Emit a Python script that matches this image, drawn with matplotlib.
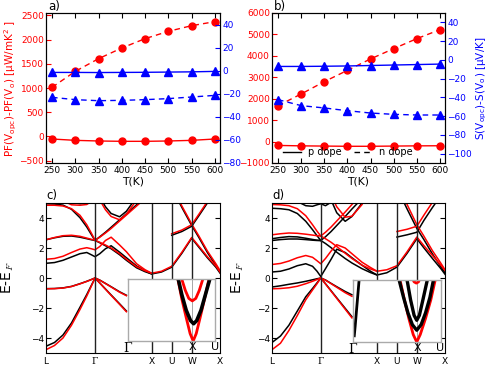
import numpy as np
import matplotlib
matplotlib.use("Agg")
import matplotlib.pyplot as plt
from matplotlib.lines import Line2D

plt.rcParams["font.family"] = "DejaVu Sans"
plt.rcParams["mathtext.fontset"] = "cm"

n = np.nan

# ---------------------------------------------------------------------------
# Top panels: differences vs temperature
# ---------------------------------------------------------------------------
temps = [250, 300, 350, 400, 450, 500, 550, 600]

# panel a)
pf_n_a = [1014, 1344, 1606, 1827, 2020, 2171, 2288, 2371]
pf_p_a = [-54, -82, -95, -102, -102, -95, -82, -54]
s_p_a = [-1.5, -1.5, -1.6, -1.5, -1.4, -1.2, -1.0, -0.6]
s_n_a = [-23.1, -25.1, -26.0, -25.7, -25.1, -24.2, -22.8, -21.4]

# panel b)
pf_n_b = [1676, 2220, 2796, 3324, 3856, 4336, 4802, 5222]
pf_p_b = [-180, -200, -210, -220, -220, -210, -200, -195]
s_p_b = [-7.0, -7.0, -6.8, -6.5, -6.0, -5.5, -5.0, -4.5]
s_n_b = [-42.4, -48.8, -51.3, -54.2, -56.7, -58.1, -58.8, -58.8]

# ---------------------------------------------------------------------------
# Bottom panels: band structures along L-G-X-U-W-X
# ---------------------------------------------------------------------------
sym_k = [0.0, 0.866, 1.866, 2.22, 2.573, 3.073]
sym_labels = ["L", "Γ", "X", "U", "W", "X"]

band_k = [0.0, 0.15, 0.3, 0.45, 0.6, 0.72, 0.8, 0.866, 0.95, 1.05, 1.15, 1.3,
          1.42, 1.6, 1.75, 1.866, 2.04, 2.22, 2.40, 2.573, 2.70, 2.85, 3.0, 3.073]

# panel c), black
c_k_heavy = [-0.71, -0.70, -0.66, -0.56, -0.38, -0.22, -0.10, 0.0, -0.14, -0.36, -0.58, -0.92,
             -1.15, n, n, n, n, n, n, n, n, n, n, n]
c_k_light = [-4.55, -4.30, -3.80, -3.00, -1.95, -1.10, -0.50, 0.0, -0.33, -0.73, -1.13, -1.72,
             -2.20, n, n, n, n, n, n, n, n, n, n, n]
c_k_cb1 = [0.98, 1.03, 1.18, 1.40, 1.62, 1.70, 1.55, 1.42, 1.62, 1.95, 2.15, 1.72,
           1.35, 0.80, 0.48, 0.27, 0.40, 0.72, 1.65, 2.65, 2.05, 1.35, 0.72, 0.33]
c_k_cb2 = [2.55, 2.68, 2.78, 2.80, 2.72, 2.62, 2.55, 2.50, 2.35, 2.15, 1.95, 1.55,
           1.18, 0.68, 0.42, 0.27, n, n, n, n, n, n, n, n]
c_k_cb3 = [4.95, 4.93, 4.86, 4.58, 4.02, 3.40, 2.90, 2.50, 2.75, 3.05, 3.38, 3.88,
           4.28, 4.88, 5.40, n, n, n, n, n, n, n, n, n]
c_k_cb4 = [n, n, n, n, n, n, n, n, 5.40, 4.75, 4.30, 4.08,
           4.45, 5.40, n, n, n, n, n, n, n, n, n, n]
c_k_cb5 = [n, n, n, 5.05, 4.95, 5.0, 5.1, n, n, n, n, n,
           n, n, n, n, n, n, n, n, n, n, n, n]
c_k_cb6 = [n, n, n, n, n, n, n, n, n, n, n, n,
           n, n, n, n, n, 6.00, 4.70, 3.50, 2.70, 1.70, 0.85, 0.42]
c_k_cb7 = [n, n, n, n, n, n, n, n, n, n, n, n,
           n, n, n, n, n, 2.85, 3.10, 3.45, 4.15, 5.00, 5.85, n]

# panel c), red
c_r_heavy = [-0.72, -0.71, -0.67, -0.57, -0.39, -0.23, -0.11, 0.0, -0.15, -0.37, -0.60, -0.95,
             -1.18, n, n, n, n, n, n, n, n, n, n, n]
c_r_light = [-4.78, -4.50, -4.00, -3.15, -2.10, -1.20, -0.55, 0.0, -0.34, -0.75, -1.16, -1.76,
             -2.25, n, n, n, n, n, n, n, n, n, n, n]
c_r_cb1 = [1.25, 1.30, 1.45, 1.70, 1.93, 2.02, 1.95, 1.88, 2.10, 2.50, 2.72, 2.20,
           1.75, 0.95, 0.55, 0.32, 0.45, 0.78, 1.72, 2.70, 2.12, 1.42, 0.80, 0.40]
c_r_cb2 = [2.55, 2.70, 2.82, 2.85, 2.78, 2.66, 2.58, 2.52, 2.38, 2.20, 2.00, 1.62,
           1.25, 0.75, 0.48, 0.32, n, n, n, n, n, n, n, n]
c_r_cb3 = [4.85, 4.85, 4.80, 4.62, 4.18, 3.55, 3.00, 2.52, 2.72, 3.00, 3.30, 3.80,
           4.20, 4.80, 5.30, n, n, n, n, n, n, n, n, n]
c_r_cb4 = [n, n, n, n, n, n, n, n, 5.20, 4.55, 4.10, 3.88,
           4.25, 5.20, n, n, n, n, n, n, n, n, n, n]
c_r_cb5 = [n, n, 5.15, 4.88, 4.85, 4.90, 5.10, n, n, n, n, n,
           n, n, n, n, n, n, n, n, n, n, n, n]
c_r_cb6 = [n, n, n, n, n, n, n, n, n, n, n, n,
           n, n, n, n, n, 6.10, 4.80, 3.60, 2.80, 1.80, 0.95, 0.50]
c_r_cb7 = [n, n, n, n, n, n, n, n, n, n, n, n,
           n, n, n, n, n, 2.95, 3.20, 3.55, 4.25, 5.10, 5.95, n]

# panel d), black
d_k_heavy = [-0.60, -0.52, -0.42, -0.33, -0.22, -0.12, -0.05, 0.0, -0.13, -0.36, -0.58, -0.90,
             -1.12, n, n, n, n, n, n, n, n, n, n, n]
d_k_light = [-4.30, -3.87, -3.15, -2.20, -1.25, -0.70, -0.32, 0.0, -0.38, -0.85, -1.32, -2.02,
             -2.58, n, n, n, n, n, n, n, n, n, n, n]
d_k_cb1 = [0.40, 0.45, 0.60, 0.82, 0.95, 0.78, 0.45, 0.10, 0.62, 1.25, 1.92, 1.70,
           1.35, 0.85, 0.45, 0.20, 0.35, 0.73, 1.65, 2.62, 2.00, 1.30, 0.62, 0.25]
d_k_cb2 = [2.50, 2.56, 2.60, 2.60, 2.56, 2.52, 2.50, 2.50, 2.30, 2.02, 1.72, 1.30,
           1.00, 0.62, 0.36, 0.20, n, n, n, n, n, n, n, n]
d_k_cb2b = [2.62, 2.70, 2.76, 2.74, 2.65, 2.57, 2.52, 2.50, 2.75, 3.10, 3.50, 4.10,
            4.60, 5.30, n, n, n, n, n, n, n, n, n, n]
d_k_cb3 = [4.65, 4.62, 4.55, 4.30, 3.78, 3.22, 2.82, 2.50, n, n, n, n,
           n, n, n, n, n, n, n, n, n, n, n, n]
d_k_cb4 = [n, n, n, n, n, n, n, n, n, 5.20, 4.35, 3.78,
           4.10, 5.00, n, n, n, n, n, n, n, n, n, n]
d_k_cb5 = [n, n, n, 5.10, 4.82, 4.78, 4.88, 4.95, 4.82, 5.05, n, n,
           n, n, n, n, n, n, n, n, n, n, n, n]
d_k_cb6 = [n, n, n, n, n, n, n, n, n, n, n, n,
           n, n, n, n, n, 6.00, 4.60, 3.30, 2.55, 1.60, 0.75, 0.35]
d_k_cb7 = [n, n, n, n, n, n, n, n, n, n, n, n,
           n, n, n, n, n, 2.73, 2.88, 3.05, 3.85, 4.70, 5.50, n]

# panel d), red
d_r_heavy = [-0.72, -0.70, -0.65, -0.55, -0.38, -0.22, -0.10, 0.0, -0.15, -0.38, -0.62, -0.98,
             -1.22, n, n, n, n, n, n, n, n, n, n, n]
d_r_light = [-4.78, -4.35, -3.50, -2.50, -1.45, -0.80, -0.38, 0.0, -0.40, -0.88, -1.36, -2.08,
             -2.66, n, n, n, n, n, n, n, n, n, n, n]
d_r_cb1 = [0.90, 0.97, 1.13, 1.35, 1.50, 1.38, 1.15, 0.95, 1.30, 1.80, 2.22, 2.00,
           1.62, 1.05, 0.70, 0.45, 0.55, 0.82, 1.75, 2.73, 2.15, 1.50, 0.85, 0.50]
d_r_cb2 = [2.88, 2.95, 3.00, 2.98, 2.92, 2.86, 2.82, 2.80, 2.62, 2.38, 2.10, 1.65,
           1.30, 0.85, 0.60, 0.45, n, n, n, n, n, n, n, n]
d_r_cb2b = [n, n, n, n, n, n, n, 2.80, 3.05, 3.40, 3.80, 4.40,
            4.90, 5.60, n, n, n, n, n, n, n, n, n, n]
d_r_cb3 = [4.90, 4.88, 4.82, 4.62, 4.15, 3.55, 3.12, 2.80, n, n, n, n,
           n, n, n, n, n, n, n, n, n, n, n, n]
d_r_cb4 = [n, n, n, n, n, n, n, n, n, 5.50, 4.75, 4.05,
           4.12, 4.90, n, n, n, n, n, n, n, n, n, n]
d_r_cb6 = [n, n, n, n, n, n, n, n, n, n, n, n,
           n, n, n, n, n, 6.20, 4.90, 3.55, 2.78, 1.82, 0.98, 0.55]
d_r_cb7 = [n, n, n, n, n, n, n, n, n, n, n, n,
           n, n, n, n, n, 3.10, 3.25, 3.45, 4.20, 5.05, 5.90, n]

c_black = [c_k_heavy, c_k_light, c_k_cb1, c_k_cb2, c_k_cb3, c_k_cb4, c_k_cb5, c_k_cb6, c_k_cb7]
c_red = [c_r_heavy, c_r_light, c_r_cb1, c_r_cb2, c_r_cb3, c_r_cb4, c_r_cb5, c_r_cb6, c_r_cb7]
d_black = [d_k_heavy, d_k_light, d_k_cb1, d_k_cb2, d_k_cb2b, d_k_cb3, d_k_cb4, d_k_cb5,
           d_k_cb6, d_k_cb7]
d_red = [d_r_heavy, d_r_light, d_r_cb1, d_r_cb2, d_r_cb2b, d_r_cb3, d_r_cb4, d_r_cb6, d_r_cb7]

# insets: zoom around the conduction band minimum at X (inset units 0..1)
inset_ticks_c = [0.0, 0.74, 1.0]
inset_ticks_d = [0.0, 0.735, 1.0]
inset_labels = ["Γ", "X", "U"]

c_in_red_outer_x = [0.575, 0.62, 0.67, 0.715, 0.75, 0.785, 0.83, 0.88, 0.93]
c_in_red_outer_y = [1.0, 0.68, 0.38, 0.12, 0.0, 0.12, 0.38, 0.68, 1.0]
c_in_black_x = [0.58, 0.62, 0.67, 0.72, 0.755, 0.79, 0.84, 0.89, 0.94]
c_in_black_y = [1.0, 0.75, 0.50, 0.33, 0.28, 0.33, 0.50, 0.75, 1.0]
c_in_red_inner_x = [0.62, 0.66, 0.70, 0.74, 0.78, 0.82, 0.86]
c_in_red_inner_y = [1.0, 0.82, 0.69, 0.65, 0.69, 0.82, 1.0]

d_in_steep_x = [0.075, 0.06, 0.045, 0.03, 0.02]
d_in_steep_y = [1.0, 0.75, 0.5, 0.25, 0.1]
d_in_red_outer_x = [0.54, 0.59, 0.64, 0.69, 0.73, 0.77, 0.83, 0.89, 0.94]
d_in_red_outer_y = [1.0, 0.68, 0.38, 0.12, 0.0, 0.12, 0.38, 0.68, 1.0]
d_in_black_low_x = [0.53, 0.58, 0.63, 0.68, 0.73, 0.78, 0.83, 0.88, 0.92]
d_in_black_low_y = [1.0, 0.72, 0.47, 0.28, 0.19, 0.28, 0.47, 0.72, 1.0]
d_in_black_up_x = [0.62, 0.66, 0.70, 0.73, 0.76, 0.80, 0.85]
d_in_black_up_y = [1.0, 0.68, 0.43, 0.35, 0.43, 0.68, 1.0]
d_in_red_top_x = [0.68, 0.70, 0.725, 0.75, 0.77]
d_in_red_top_y = [1.03, 0.97, 0.95, 0.97, 1.03]


# ---------------------------------------------------------------------------
# helpers
# ---------------------------------------------------------------------------
def style_ticks(ax, size=6.5):
    ax.tick_params(direction="in", length=3.5, width=0.8, labelsize=size, pad=1.5)


def serif_gamma(labels):
    # the Gamma labels are set in a serif face in the original
    for t in labels:
        if t.get_text() == "Γ":
            t.set_fontfamily("DejaVu Serif")
            t.set_fontsize(9)


def temp_panel(fig, rect, pf_n, pf_p, s_p, s_n, pf_lim, s_lim, pf_ticks, s_ticks, label):
    ax = fig.add_axes(rect)
    ax.plot(temps, pf_n, "--o", color="red", lw=1, ms=5, dashes=(4, 3))
    ax.plot(temps, pf_p, "-o", color="red", lw=1, ms=5)
    ax.set_xlim(237, 611)
    ax.set_ylim(*pf_lim)
    ax.set_yticks(pf_ticks)
    ax.set_xticks(temps)
    style_ticks(ax)
    ax.tick_params(axis="y", colors="red")
    ax.tick_params(axis="x", top=True, pad=2)
    ax.set_xlabel("T(K)", fontsize=7.8, labelpad=1)
    fig.text(rect[0] + 0.004, 0.999, label, fontsize=8.5, va="top")

    ax2 = ax.twinx()
    ax2.plot(temps, s_p, "-^", color="blue", lw=1, ms=5.5)
    ax2.plot(temps, s_n, "--^", color="blue", lw=1, ms=5.5, dashes=(4, 3))
    ax2.set_ylim(*s_lim)
    ax2.set_yticks(s_ticks)
    style_ticks(ax2)
    ax2.tick_params(axis="y", colors="blue")
    for sp in ax2.spines.values():
        sp.set_color("black")
    return ax, ax2


def band_panel(fig, rect, black, red, label, ylabel_x):
    ax = fig.add_axes(rect)
    for e in black:
        ax.plot(band_k, e, color="black", lw=1.1)
    for e in red:
        ax.plot(band_k, e, color="red", lw=1.1)
    for k in sym_k[1:-1]:
        ax.axvline(k, color="#222222", lw=1.0)
    ax.set_xlim(sym_k[0], sym_k[-1])
    ax.set_ylim(-5, 5)
    ax.set_xticks(sym_k)
    ax.set_xticklabels(sym_labels, fontsize=8)
    serif_gamma(ax.get_xticklabels())
    ax.set_yticks([-4, -2, 0, 2, 4])
    style_ticks(ax)
    ax.tick_params(axis="x", length=0, pad=3)
    ax.tick_params(axis="y", right=True)
    ax.set_ylabel(r"E-E$_F$", fontsize=10, labelpad=2)
    ax.yaxis.set_label_coords(ylabel_x, 0.5)
    ax.text(0.0, 1.01, label, transform=ax.transAxes, fontsize=8.5, va="bottom")
    return ax


def inset_panel(fig, rect, ticks):
    ax = fig.add_axes(rect)
    ax.set_xlim(0, 1)
    ax.set_ylim(0, 1)
    ax.axvline(ticks[1], color="#999999", lw=0.6)
    for sp in ax.spines.values():
        sp.set_color("#aaaaaa")
        sp.set_linewidth(1.0)
    ax.set_xticks(ticks)
    ax.set_xticklabels(inset_labels, fontsize=8)
    serif_gamma(ax.get_xticklabels())
    ax.tick_params(axis="x", length=0, pad=0.5)
    ax.set_yticks([])
    return ax


# ---------------------------------------------------------------------------
# figure
# ---------------------------------------------------------------------------
fig = plt.figure(figsize=(4.91, 3.68), dpi=100)

W, H = 491.0, 368.0
top_rect_a = [46 / W, 1 - 163 / H, 174 / W, 150 / H]
top_rect_b = [272 / W, 1 - 163 / H, 173 / W, 150 / H]
bot_rect_c = [46 / W, 1 - 353 / H, 174 / W, 150 / H]
bot_rect_d = [272 / W, 1 - 353 / H, 173 / W, 150 / H]

ax_a, ax_a2 = temp_panel(fig, top_rect_a, pf_n_a, pf_p_a, s_p_a, s_n_a,
                         (-550, 2550), (-80, 50),
                         [-500, 0, 500, 1000, 1500, 2000, 2500],
                         [-80, -60, -40, -20, 0, 20, 40], "a)")
ax_a.set_ylabel(r"PF(V$_{\mathregular{opc}}$)-PF(V$_{\mathregular{o}}$) [μW/mK$^{\mathregular{2}}$ ]",
                color="red", fontsize=7.5, labelpad=1)

ax_b, ax_b2 = temp_panel(fig, top_rect_b, pf_n_b, pf_p_b, s_p_b, s_n_b,
                         (-1000, 6000), (-110, 50),
                         [-1000, 0, 1000, 2000, 3000, 4000, 5000, 6000],
                         [-100, -80, -60, -40, -20, 0, 20, 40], "b)")
ax_b2.set_ylabel(r"S(V$_{\mathregular{opc}}$)-S(V$_{\mathregular{o}}$) [μV/K]",
                 color="blue", fontsize=7.5, labelpad=2)

handles = [Line2D([], [], color="black", lw=1),
           Line2D([], [], color="black", lw=1, ls="--", dashes=(4, 3))]
ax_b.legend(handles, ["p dope", "n dope"], loc="lower left", bbox_to_anchor=(0.03, 0.0),
            ncol=2, frameon=False, fontsize=7, handlelength=1.8, handletextpad=0.8,
            columnspacing=1.2, borderaxespad=0.2)

ax_c = band_panel(fig, bot_rect_c, c_black, c_red, "c)", -0.17)
ax_d = band_panel(fig, bot_rect_d, d_black, d_red, "d)", -0.15)

in_c = inset_panel(fig, [127.7 / W, 1 - 341 / H, 87.3 / W, 61.7 / H], inset_ticks_c)
in_c.plot(c_in_red_outer_x, c_in_red_outer_y, color="red", lw=2)
in_c.plot(c_in_black_x, c_in_black_y, color="black", lw=2.6)
in_c.plot(c_in_red_inner_x, c_in_red_inner_y, color="red", lw=2)

in_d = inset_panel(fig, [352.5 / W, 1 - 342 / H, 88 / W, 62 / H], inset_ticks_d)
in_d.plot(d_in_steep_x, d_in_steep_y, color="black", lw=2)
in_d.plot(d_in_red_outer_x, d_in_red_outer_y, color="red", lw=2)
in_d.plot(d_in_black_low_x, d_in_black_low_y, color="black", lw=2.4)
in_d.plot(d_in_black_up_x, d_in_black_up_y, color="black", lw=2.4)
in_d.plot(d_in_red_top_x, d_in_red_top_y, color="red", lw=2)

fig.savefig("out.png", dpi=100)
